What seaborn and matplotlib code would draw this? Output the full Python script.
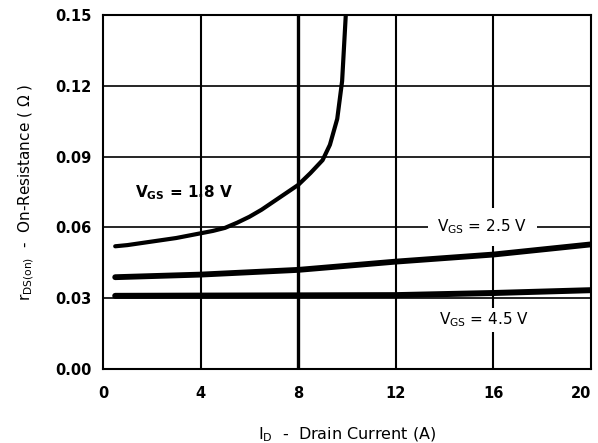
import matplotlib
matplotlib.use("Agg")
import matplotlib.pyplot as plt
import seaborn as sns
import pandas as pd

# Data
x_18 = [0.5, 1, 2, 3, 4, 4.5, 5, 5.5, 6, 6.5, 7, 7.5, 8, 8.5, 9, 9.3, 9.6, 9.8, 9.95]
y_18 = [0.052, 0.0525, 0.054, 0.0555, 0.0575, 0.0585, 0.0598, 0.062, 0.0645, 0.0675,
        0.071, 0.0745, 0.078, 0.083, 0.0885, 0.095, 0.106, 0.122, 0.15]
x_25 = [0.5, 4, 8, 12, 16, 20]
y_25 = [0.0389, 0.040, 0.042, 0.0455, 0.0485, 0.0528]
x_45 = [0.5, 4, 8, 12, 16, 20]
y_45 = [0.0310, 0.0311, 0.0312, 0.0313, 0.0322, 0.0334]
series_names = ["1.8 V", "2.5 V", "4.5 V"]
x_ticks = [0, 4, 8, 12, 16, 20]
y_ticks = [0.00, 0.03, 0.06, 0.09, 0.12, 0.15]
y_tick_labels = ["0.00", "0.03", "0.06", "0.09", "0.12", "0.15"]

df = pd.concat([
    pd.DataFrame({"x": x_18, "y": y_18, "vgs": series_names[0]}),
    pd.DataFrame({"x": x_25, "y": y_25, "vgs": series_names[1]}),
    pd.DataFrame({"x": x_45, "y": y_45, "vgs": series_names[2]}),
])

sns.set_style("white")
plt.rcParams['font.family'] = ['DejaVu Sans']
plt.rcParams['mathtext.fontset'] = 'dejavusans'
plt.rcParams['text.color'] = 'black'
plt.rcParams['axes.labelcolor'] = 'black'

fig = plt.figure(figsize=(5.98, 4.43), dpi=100)
ax = fig.add_axes([103/598, 1 - 369/443, (591-103)/598, (369-15)/443])

# grid lines
for xv in x_ticks[1:-1]:
    ax.axvline(xv, color="black", lw=2.4 if xv == 8 else 1.5, zorder=1)
for yv in y_ticks[1:-1]:
    ax.axhline(yv, color="black", lw=1.2, zorder=1)

sns.lineplot(data=df, x="x", y="y", hue="vgs", palette=["black"]*3,
             size="vgs", sizes={"1.8 V": 3.0, "2.5 V": 4.2, "4.5 V": 4.3},
             legend=False, ax=ax, sort=True, zorder=3)

ax.set_xlim(0, 20)
ax.set_ylim(0, 0.15)
ax.set_xticks(x_ticks)
ax.set_yticks(y_ticks)
ax.set_yticklabels(y_tick_labels)
ax.tick_params(axis='both', length=0, labelsize=10.5, colors='black')
ax.tick_params(axis='x', pad=12)
ax.tick_params(axis='y', pad=8)
for lbl in ax.get_xticklabels() + ax.get_yticklabels():
    lbl.set_fontweight('bold')
ax.get_xticklabels()[-1].set_horizontalalignment('right')
for sp in ax.spines.values():
    sp.set_color('black')
    sp.set_linewidth(1.5)
    sp.set_visible(True)

ax.set_xlabel(r"$\mathregular{I_D}$  -  Drain Current (A)", fontsize=11.5, labelpad=18)
ax.set_ylabel(r"$\mathregular{r_{DS(on)}}$  -  On-Resistance ( Ω )", fontsize=11, labelpad=14)

ax.text(1.3, 0.0748, r"$\mathbf{V_{GS}}$ = 1.8 V", fontsize=11, fontweight='bold',
        ha='left', va='center', zorder=4)
ax.text(15.55, 0.0602, r"$\mathregular{V_{GS}}$ = 2.5 V", fontsize=11, ha='center', va='center',
        zorder=4, bbox=dict(facecolor='white', edgecolor='none', pad=7))
ax.text(15.6, 0.0208, r"$\mathregular{V_{GS}}$ = 4.5 V", fontsize=11, ha='center', va='center',
        zorder=4, bbox=dict(facecolor='white', edgecolor='none', pad=2))

fig.savefig("out.png", dpi=100)
